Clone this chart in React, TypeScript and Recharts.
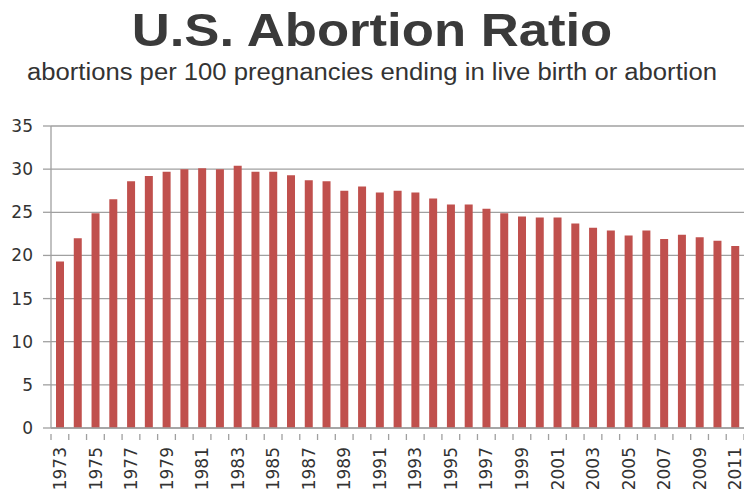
import React from 'react';
import { BarChart, Bar, XAxis, YAxis, CartesianGrid } from 'recharts';

const years = [
  1973, 1974, 1975, 1976, 1977, 1978, 1979, 1980, 1981, 1982,
  1983, 1984, 1985, 1986, 1987, 1988, 1989, 1990, 1991, 1992,
  1993, 1994, 1995, 1996, 1997, 1998, 1999, 2000, 2001, 2002,
  2003, 2004, 2005, 2006, 2007, 2008, 2009, 2010, 2011,
];
const ratios = [
  19.3, 22.0, 24.9, 26.5, 28.6, 29.2, 29.7, 30.0, 30.1, 30.0,
  30.4, 29.7, 29.7, 29.3, 28.7, 28.6, 27.5, 28.0, 27.3, 27.5,
  27.3, 26.6, 25.9, 25.9, 25.4, 24.9, 24.5, 24.4, 24.4, 23.7,
  23.2, 22.9, 22.3, 22.9, 21.9, 22.4, 22.1, 21.7, 21.1,
];
const yTicks = [0, 5, 10, 15, 20, 25, 30, 35];

const data = years.map((year, i) => ({ year: String(year), ratio: ratios[i] }));

const BAR = '#c0504d';
const AXIS = '#a0a0a0';
const TEXT = '#333333';
const TICK_SIZE = 6;
const LABEL_GAP = 13;

// year labels on every other bar, tick marks on the band edges
// (tickLine is off, so the tick's y is the axis line itself)
function YearTick(props: any) {
  const { x, y, payload, index } = props;
  const half = payload && payload.offset ? payload.offset : 8.9;
  const last = index === years.length - 1;
  return (
    <g>
      <line x1={x - half} x2={x - half} y1={y} y2={y + TICK_SIZE} stroke={AXIS} strokeWidth={1.3} />
      {last && <line x1={x + half} x2={x + half} y1={y} y2={y + TICK_SIZE} stroke={AXIS} strokeWidth={1.3} />}
      {index % 2 === 0 && (
        <text
          x={x}
          y={y + LABEL_GAP}
          transform={`rotate(-90, ${x}, ${y + LABEL_GAP})`}
          textAnchor="end"
          dy="0.36em"
          fill={TEXT}
          fontSize={17}
          fontFamily='"DejaVu Sans", sans-serif'
        >
          {payload.value}
        </text>
      )}
    </g>
  );
}

export default function App() {
  return (
    <div style={{ position: 'absolute', left: 0, top: 0, width: 744, height: 491, background: '#fff' }}>
      <div
        style={{
          position: 'absolute', left: 0, top: 4, width: 744, textAlign: 'center',
          fontFamily: '"Liberation Sans", Arial, sans-serif', fontWeight: 'bold',
          fontSize: 47, color: '#3a3a3a', transform: 'scaleX(1.12)', lineHeight: '52px',
        }}
      >
        U.S. Abortion Ratio
      </div>
      <div
        style={{
          position: 'absolute', left: 0, top: 59, width: 744, textAlign: 'center',
          fontFamily: '"Liberation Sans", Arial, sans-serif',
          fontSize: 23, color: TEXT, lineHeight: '26px', transform: 'scaleX(1.115)',
        }}
      >
        abortions per 100 pregnancies ending in live birth or abortion
      </div>
      <BarChart
        width={744}
        height={491}
        data={data}
        margin={{ top: 126, right: 0, left: 0, bottom: 0 }}
        barSize={8}
        style={{ position: 'absolute', left: 0, top: 0 }}
      >
        <CartesianGrid vertical={false} stroke={AXIS} strokeWidth={1.3} />
        <XAxis
          dataKey="year"
          interval={0}
          stroke={AXIS}
          strokeWidth={1.3}
          tickLine={false}
          tickMargin={0}
          height={63}
          tick={<YearTick />}
        />
        <YAxis
          domain={[0, 35]}
          ticks={yTicks}
          width={51}
          stroke={AXIS}
          strokeWidth={1.3}
          tickSize={8}
          tickMargin={10}
          tick={{ fill: TEXT, fontSize: 17, fontFamily: '"DejaVu Sans", sans-serif' }}
        />
        <Bar dataKey="ratio" fill={BAR} isAnimationActive={false} />
      </BarChart>
    </div>
  );
}
